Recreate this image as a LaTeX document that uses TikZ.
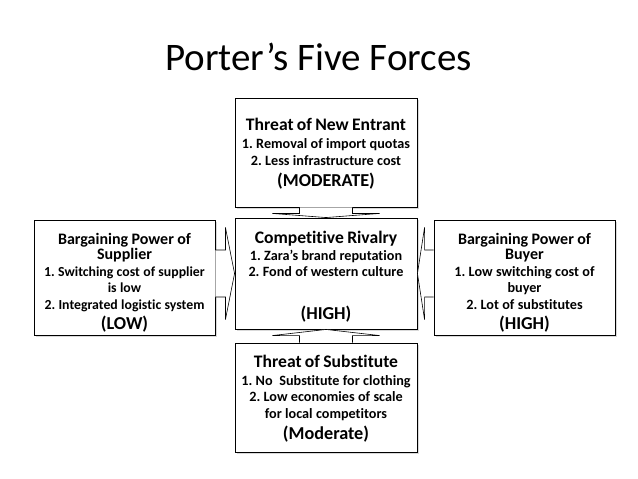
\documentclass[tikz,border=0pt]{standalone}
\usepackage{fontspec}
\setmainfont{Carlito}[Ligatures=NoCommon]
\usetikzlibrary{calc, shadows}
\frenchspacing

\newcommand{\txtline}[3]{{\fontsize{#1}{#2}\selectfont #3\par}}

\begin{document}
\begin{tikzpicture}[x=1pt, y=-1pt,
    forcebox/.style={draw=black, line width=0.9pt, fill=white, rectangle, inner sep=0pt,
        drop shadow={shadow xshift=1.5pt, shadow yshift=-1.5pt, opacity=0.3}},
    boxtext/.style={anchor=base, text width=200pt, align=center, inner sep=0pt, font=\bfseries},
    blockarrow/.style={draw=black, line width=0.6pt, fill=white, line join=miter}]

    \useasboundingbox (0,0) rectangle (638,479);

    % ==========================================
    % 1. TITLE
    % ==========================================
    \node[anchor=base, font=\fontsize{39}{39}\selectfont] (title) at (318.5,70) {Porter’s Five Forces};

    % ==========================================
    % 2. THE FIVE BOXES
    % ==========================================
    \node[forcebox, minimum width=182pt, minimum height=109pt] (entrant) at (326,152.5) {};
    \node[forcebox, minimum width=182pt, minimum height=111pt] (rivalry) at (326,273.5) {};
    \node[forcebox, minimum width=182pt, minimum height=109pt] (substitute) at (326,397.5) {};
    \node[forcebox, minimum width=181pt, minimum height=115pt] (supplier) at (124.5,277.5) {};
    \node[forcebox, minimum width=181pt, minimum height=115pt] (buyer) at (524.5,277.5) {};

    % ==========================================
    % 3. BLOCK ARROWS INTO THE RIVALRY BOX
    % ==========================================
    \coordinate (supplierOut) at (supplier.east |- rivalry.west);
    \coordinate (buyerOut) at (buyer.west |- rivalry.east);

    \draw[blockarrow] ($(entrant.south)+(-26.5,0)$) -- ++(0,6) -- ++(-27,0) -- (rivalry.north)
        -- ($(entrant.south)+(53.5,6)$) -- ++(-27,0) -- ++(0,-6);
    \draw[blockarrow] ($(substitute.north)+(-26.5,0)$) -- ++(0,-7) -- ++(-27,0) -- (rivalry.south)
        -- ($(substitute.north)+(53.5,-7)$) -- ++(-27,0) -- ++(0,7);
    \draw[blockarrow] ($(supplierOut)+(0,-23.5)$) -- ++(10,0) -- ++(0,-22.5) -- (rivalry.west)
        -- ($(supplierOut)+(10,46)$) -- ++(0,-22.5) -- ++(-10,0);
    \draw[blockarrow] ($(buyerOut)+(0,-23.5)$) -- ++(-9,0) -- ++(0,-22.5) -- (rivalry.east)
        -- ($(buyerOut)+(-9,46)$) -- ++(0,-22.5) -- ++(9,0);

    % ==========================================
    % 4. BOX TEXTS
    % ==========================================
    \node[boxtext] (entrantText) at (326,130) {%
        \txtline{17.6}{18}{Threat of New Entrant}
        \txtline{14.2}{18}{1. Removal of import quotas}
        \txtline{14.2}{17.7}{2. Less infrastructure cost}
        \txtline{18.2}{20.3}{(MODERATE)}};

    \node[boxtext] (rivalryText) at (326,243.3) {%
        \txtline{17.6}{17}{Competitive Rivalry}
        \txtline{14.2}{16.7}{1. Zara’s brand reputation}
        \txtline{14.2}{16.7}{2. Fond of western culture}
        \txtline{18.2}{42.6}{(HIGH)}};

    \node[boxtext] (supplierText) at (124.5,244) {%
        \txtline{16}{15.5}{Bargaining Power of\\Supplier}
        \txtline{13.8}{17}{1. Switching cost of supplier}
        \txtline{13.8}{16}{is low}
        \txtline{13.8}{16.7}{2. Integrated logistic system}
        \txtline{18.2}{20}{(LOW)}};

    \node[boxtext] (buyerText) at (524.5,244) {%
        \txtline{16}{15.5}{Bargaining Power of\\Buyer}
        \txtline{14.2}{17}{1. Low switching cost of}
        \txtline{14.2}{16}{buyer}
        \txtline{14.2}{16.7}{2. Lot of substitutes}
        \txtline{18.2}{20}{(HIGH)}};

    \node[boxtext] (substituteText) at (326,367.3) {%
        \txtline{17.6}{18}{Threat of Substitute}
        \txtline{14.2}{17.7}{1. No\ \ Substitute for clothing}
        \txtline{14.2}{16.7}{2. Low economies of scale}
        \txtline{14.2}{16.7}{for local competitors}
        \txtline{18.2}{21}{(Moderate)}};

\end{tikzpicture}
\end{document}
